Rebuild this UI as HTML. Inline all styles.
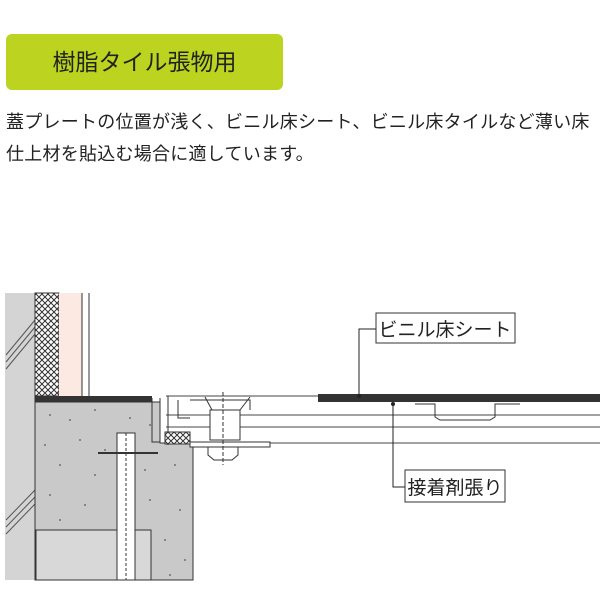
<!DOCTYPE html>
<html><head><meta charset="utf-8"><style>
body{margin:0;background:#fff;width:600px;height:600px;overflow:hidden;position:relative;font-family:"Liberation Sans","Noto Sans CJK JP",sans-serif;color:#222}
.hd{position:absolute;left:6px;top:34px;width:277px;height:56px;background:#bcd41f;border-radius:6px;font-size:23px;line-height:56px;text-align:center}
.tx{position:absolute;left:6px;top:106px;font-size:18px;line-height:32px;white-space:nowrap;letter-spacing:0.25px}
svg{position:absolute;left:0;top:0}
</style></head><body>
<div class="hd">樹脂タイル張物用</div>
<div class="tx">蓋プレートの位置が浅く、ビニル床シート、ビニル床タイルなど薄い床<br>仕上材を貼込む場合に適しています。</div>
<svg width="600" height="600" viewBox="0 0 600 600">
<defs>
<pattern id="xh" width="6" height="6" patternUnits="userSpaceOnUse"><rect width="6" height="6" fill="#fff"/><path d="M0 0L6 6M6 0L0 6" stroke="#333" stroke-width="1"/></pattern>
</defs>
<rect x="5" y="293" width="30" height="287" fill="#d4d4d4"/>
<g stroke="#555" stroke-width="1">
<line x1="6" y1="355" x2="35" y2="320"/><line x1="6" y1="362" x2="35" y2="327"/><line x1="6" y1="369" x2="35" y2="334"/>
<line x1="6" y1="520" x2="35" y2="490"/><line x1="6" y1="527" x2="35" y2="497"/><line x1="6" y1="534" x2="35" y2="504"/>
</g>
<rect x="35" y="293" width="24" height="103" fill="url(#xh)" stroke="#333"/>
<rect x="59" y="293" width="23" height="103" fill="#fbe9e2"/>
<line x1="82" y1="293" x2="82" y2="396" stroke="#333"/><line x1="89" y1="293" x2="89" y2="396" stroke="#333"/>
<line x1="35" y1="293" x2="35" y2="580" stroke="#333"/>
<path d="M35 402H160V443H193V580H35Z" fill="#c9c9c9" stroke="#333"/>
<rect x="36" y="530" width="115" height="50" fill="#d8d8d8" stroke="#333"/>
<g fill="#555">
<circle cx="50" cy="415" r="0.9"/><circle cx="70" cy="420" r="0.9"/><circle cx="95" cy="410" r="0.9"/><circle cx="130" cy="418" r="0.9"/><circle cx="150" cy="425" r="0.9"/><circle cx="45" cy="445" r="0.9"/><circle cx="80" cy="440" r="0.9"/><circle cx="105" cy="450" r="0.9"/><circle cx="60" cy="465" r="0.9"/><circle cx="95" cy="475" r="0.9"/><circle cx="145" cy="470" r="0.9"/><circle cx="175" cy="465" r="0.9"/><circle cx="50" cy="495" r="0.9"/><circle cx="85" cy="505" r="0.9"/><circle cx="150" cy="500" r="0.9"/><circle cx="180" cy="510" r="0.9"/><circle cx="165" cy="540" r="0.9"/><circle cx="185" cy="560" r="0.9"/><circle cx="170" cy="575" r="0.9"/><circle cx="60" cy="520" r="0.9"/>
</g>
<rect x="117" y="433" width="18" height="147" fill="#fff" stroke="#333"/>
<line x1="126" y1="433" x2="126" y2="580" stroke="#333" stroke-dasharray="3 2"/>
<line x1="98" y1="453" x2="158" y2="453" stroke="#333" stroke-width="2"/>
<rect x="35" y="396" width="117" height="6" fill="#333"/>
<path d="M152 398V442H160V398" fill="none" stroke="#333"/>
<path d="M166 396H600M166 415H600M166 427H600M166 443H600" stroke="#444" stroke-width="1"/>
<path d="M168 396V445M178 400V418H190M190 400H250V410" fill="none" stroke="#333"/>
<rect x="165" y="432" width="25" height="12" fill="url(#xh)" stroke="#333"/>
<rect x="190" y="442" width="80" height="5" fill="#fff" stroke="#333"/>
<path d="M205 397L212 410H240L250 397" fill="none" stroke="#333"/>
<rect x="210" y="410" width="30" height="30" fill="#fff" stroke="#333"/>
<path d="M208 447H238V455L232 460H214L208 455Z" fill="#fff" stroke="#333"/>
<line x1="223" y1="392" x2="223" y2="465" stroke="#333" stroke-dasharray="4 2"/>
<rect x="318" y="394" width="282" height="8" fill="#333"/>
<path d="M415 404H435V417L440 420H490L495 417V404H520" fill="none" stroke="#333"/>
<path d="M376 329H359V396" fill="none" stroke="#222"/>
<circle cx="359" cy="396" r="2" fill="#222"/>
<path d="M393 404V487H405" fill="none" stroke="#222"/>
<circle cx="393" cy="404" r="2" fill="#222"/>
<rect x="376" y="313" width="139" height="30" fill="#fff" stroke="#333"/>
<text x="445" y="336" font-size="19" text-anchor="middle" font-family="Liberation Sans, Noto Sans CJK JP, sans-serif" fill="#222">ビニル床シート</text>
<rect x="405" y="470" width="100" height="32" fill="#fff" stroke="#333"/>
<text x="455" y="494" font-size="19" text-anchor="middle" font-family="Liberation Sans, Noto Sans CJK JP, sans-serif" fill="#222">接着剤張り</text>
</svg>
</body></html>
